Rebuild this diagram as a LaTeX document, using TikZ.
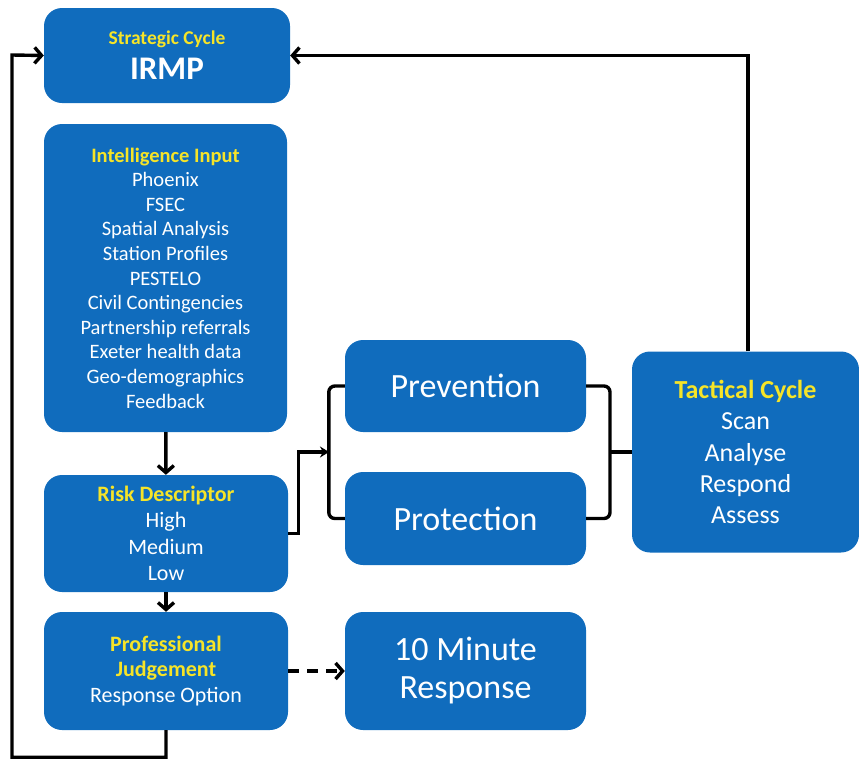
\documentclass[tikz,border=0pt]{standalone}
\usepackage{fontspec}
\setmainfont{Carlito}
\usetikzlibrary{arrows.meta}
\definecolor{boxblue}{RGB}{16,108,189}
\definecolor{hlyellow}{RGB}{246,228,40}
\newcommand\hd[1]{\textcolor{hlyellow}{\bfseries #1}}
\newcommand\fs[2]{\fontsize{#1}{#2}\selectfont}

\begin{document}
\begin{tikzpicture}[x=1pt,y=-1pt,
    blk/.style={draw=none,fill=boxblue,rounded corners=18pt,text=white,align=center,
                inner sep=0pt},
    link/.style={line width=3.4pt,-{Straight Barb[length=7pt,width=16pt,line width=3.4pt]}},
    brace/.style={line width=3.4pt,rounded corners=6pt}]
    \useasboundingbox (0,0) rectangle (859,761);
    \node[blk,minimum width=246pt,minimum height=95pt,font=\fs{33}{35}\bfseries] (irmp) at (167,55.5)
        {{\fs{19.5}{22}\hd{Strategic Cycle}}\\IRMP};
    \node[blk,minimum width=243pt,minimum height=308pt,font=\fs{20.5}{24.6}] (intel) at (165.5,278)
        {\hd{Intelligence Input}\\Phoenix\\FSEC\\Spatial Analysis\\Station Profiles\\PESTELO\\
         Civil Contingencies\\Partnership referrals\\Exeter health data\\Geo-demographics\\Feedback};
    \node[blk,minimum width=244pt,minimum height=117pt,font=\fs{22}{26.5}] (risk) at (166,533.5)
        {\hd{Risk Descriptor}\\High\\Medium\\Low};
    \node[blk,minimum width=244pt,minimum height=118pt,font=\fs{22}{25.5}] (prof) at (166,671)
        {\hd{Professional}\\\hd{Judgement}\\Response Option};
    \node[blk,minimum width=241pt,minimum height=92pt,font=\fs{34}{38}] (prev) at (465.5,386)
        {Prevention};
    \node[blk,minimum width=241pt,minimum height=93pt,font=\fs{34}{38}] (prot) at (465.5,518.5)
        {Protection};
    \node[blk,minimum width=241pt,minimum height=118pt,font=\fs{34}{38}] (resp) at (465.5,671)
        {10 Minute\\Response};
    \node[blk,minimum width=227pt,minimum height=201pt,font=\fs{26}{31.3}] (tact) at (745.5,452)
        {\hd{Tactical Cycle}\\Scan\\Analyse\\Respond\\Assess};
    \coordinate (lb) at (329,452);
    \coordinate (rb) at (610,452);
    \draw[link] (intel) -- (risk);
    \draw[link] (risk) -- (prof);
    \draw[link] (prof.south) -- ++(0,27) -| (12,55) -- (irmp.west);
    \draw[link] (tact.north -| 748,0) |- (irmp.east);
    \draw[link,dash pattern=on 11pt off 8pt] (prof) -- (resp);
    \draw[link,-{Stealth[length=9pt,width=11pt]}] (risk.east) -- ++(10,0) |- (lb);
    \draw[brace] (prev.west) -- ++(-16,0) |- (prot.west);
    \draw[brace] (prev.east) -| (rb) |- (prot.east);
    \draw[line width=3.4pt] (rb) -- (tact.west);
\end{tikzpicture}
\end{document}
